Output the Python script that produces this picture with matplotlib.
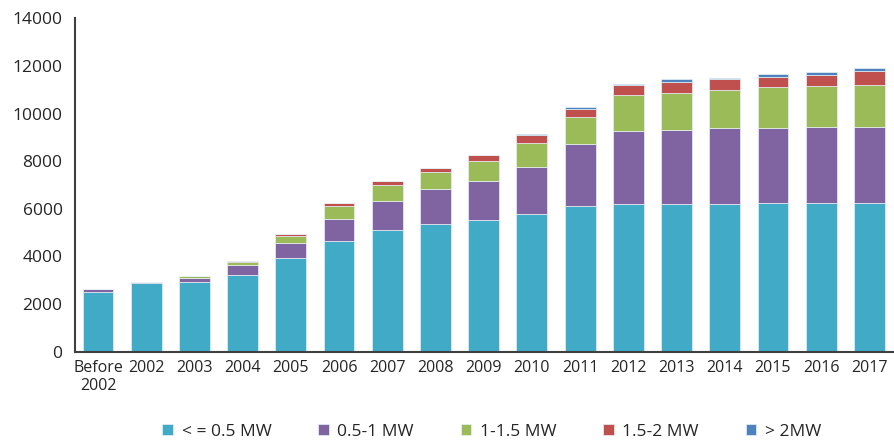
import numpy as np
import matplotlib
matplotlib.use('Agg')
import matplotlib.pyplot as plt

plt.rcParams['font.family'] = ['Open Sans', 'DejaVu Sans']

years = ['Before\n2002', '2002', '2003', '2004', '2005', '2006', '2007', '2008',
         '2009', '2010', '2011', '2012', '2013', '2014', '2015', '2016', '2017']

# installed capacity by turbine size class
le_05 = [2520, 2870, 2930, 3220, 3920, 4650, 5110, 5350, 5530, 5770,
         6100, 6200, 6200, 6200, 6240, 6240, 6240]
mw_05_1 = [110, 55, 180, 410, 655, 935, 1230, 1470, 1650, 2000,
           2620, 3065, 3120, 3175, 3135, 3190, 3190]
mw_1_15 = [0, 0, 70, 125, 280, 535, 660, 725, 830, 1005,
           1135, 1535, 1540, 1595, 1720, 1720, 1790]
mw_15_2 = [0, 0, 0, 55, 85, 125, 180, 170, 240, 310,
           335, 395, 460, 480, 460, 460, 575]
gt_2 = [0, 0, 0, 0, 0, 0, 0, 0, 0, 55,
        65, 65, 125, 55, 115, 125, 125]

series = [le_05, mw_05_1, mw_1_15, mw_15_2, gt_2]
labels = ['< = 0.5 MW', '0.5-1 MW', '1-1.5 MW', '1.5-2 MW', '> 2MW']
colors = ['#41abc7', '#8064a2', '#9bbb59', '#c0504d', '#4f81bd']

fig = plt.figure(figsize=(8.94, 4.43), dpi=100)
ax = fig.add_axes([0.0839, 0.206, 0.9161, 0.7527])

x = np.arange(len(years))
bottom = np.zeros(len(years))
for vals, lab, col in zip(series, labels, colors):
    ax.bar(x, vals, 0.64, bottom=bottom, color=col, label=lab,
           edgecolor='#e8f2f6', linewidth=0.5)
    bottom += np.array(vals)

ax.set_xlim(-0.477, 16.51)
ax.set_ylim(0, 14000)
ax.set_yticks(np.arange(0, 14001, 2000))
ax.set_xticks(x)
ax.set_xticklabels(years)

for s in ['top', 'right']:
    ax.spines[s].set_visible(False)
for s in ['left', 'bottom']:
    ax.spines[s].set_color('#404040')
    ax.spines[s].set_linewidth(1.5)

ax.tick_params(axis='y', length=0, pad=9, labelsize=12.5, labelcolor='#262626')
ax.tick_params(axis='x', length=0, pad=6, labelsize=11.5, labelcolor='#262626')

fig.legend(loc='center', bbox_to_anchor=(0.55, 0.025), ncol=5, frameon=False,
           fontsize=12.5, handlelength=0.6, handleheight=0.6, handletextpad=0.5,
           columnspacing=2.7, labelcolor='#262626')

plt.savefig('out.png', dpi=100)
